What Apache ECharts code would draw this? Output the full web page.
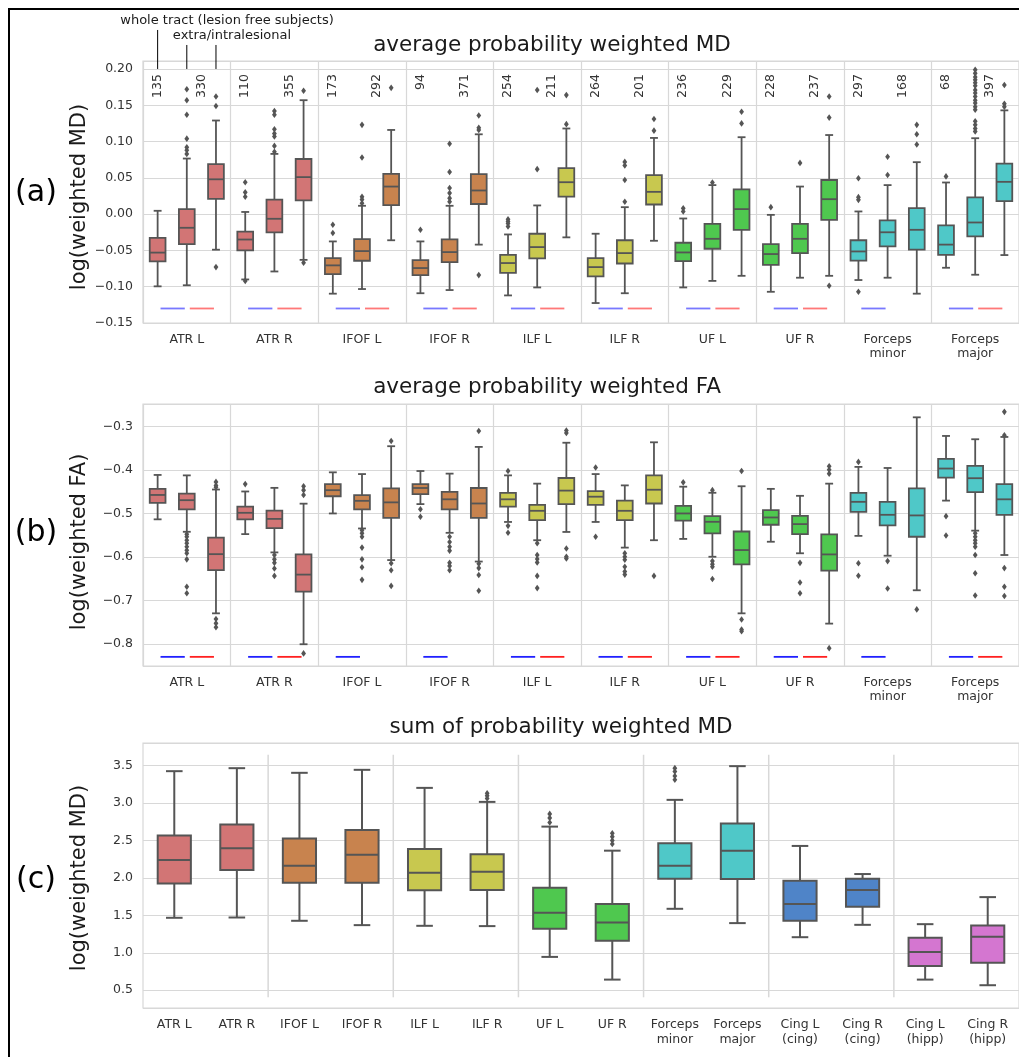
<!DOCTYPE html>
<html><head><meta charset="utf-8">
<script src="https://cdn.jsdelivr.net/npm/echarts@6/dist/echarts.min.js"></script>
<style>html,body{margin:0;padding:0;background:#fff}#c{width:1019px;height:1057px}</style>
</head><body><div id="c"></div>
<script>
// ---------------- DATA ----------------
const tracts10 = ['ATR L','ATR R','IFOF L','IFOF R','ILF L','ILF R','UF L','UF R','Forceps\nminor','Forceps\nmajor'];
const tracts14 = ['ATR L','ATR R','IFOF L','IFOF R','ILF L','ILF R','UF L','UF R','Forceps\nminor','Forceps\nmajor','Cing L\n(cing)','Cing R\n(cing)','Cing L\n(hipp)','Cing R\n(hipp)'];
const colorIdx10 = [0,0,1,1,2,2,3,3,4,4];
const colorIdx14 = [0,0,1,1,2,2,3,3,4,4,5,5,6,6];
const palette = ['#d27575','#c8834e','#c8c84f','#4fc84f','#4fc8c8','#4f84c8','#d476d0'];

// subject counts (lesion free / with lesions)
const nLesionFree = [135,110,173,94,254,264,236,228,297,68];
const nLesion     = [330,355,292,371,211,201,229,237,168,397];

// (a) average probability weighted MD : [min, q1, median, q3, max]
const mdWhole = [
  [-0.0995,-0.065,-0.053,-0.0326,0.0046],[-0.090,-0.050,-0.035,-0.024,0.003],
  [-0.1096,-0.0826,-0.0706,-0.0606,-0.0376],[-0.109,-0.084,-0.0743,-0.0633,-0.0376],
  [-0.112,-0.081,-0.0674,-0.056,-0.028],[-0.1225,-0.0858,-0.073,-0.0606,-0.027],
  [-0.101,-0.0647,-0.0528,-0.0394,-0.006],[-0.107,-0.070,-0.055,-0.0413,-0.001],
  [-0.0908,-0.064,-0.0514,-0.036,0.0037],[-0.0739,-0.056,-0.042,-0.0156,0.0436]];
const mdWholeOut = [[],[0.044,0.030,0.024,-0.092],[-0.0147,-0.026],[-0.0216],[-0.007,-0.010,-0.013,-0.017],[],[0.008,0.0037],[0.0096],[0.0495,0.0234,0.0197,-0.107],[0.052]];
const mdExtra = [
  [-0.098,-0.0413,-0.0188,0.0069,0.0766],[-0.079,-0.025,-0.0064,0.020,0.083],
  [-0.1032,-0.0642,-0.0509,-0.0344,0.0115],[-0.1046,-0.066,-0.0523,-0.0349,0.0115],
  [-0.101,-0.061,-0.0454,-0.027,0.012],[-0.109,-0.068,-0.0537,-0.036,0.0096],
  [-0.092,-0.0477,-0.034,-0.0133,0.040],[-0.0876,-0.0537,-0.034,-0.0133,0.038],
  [-0.0876,-0.0445,-0.025,-0.0087,0.040],[-0.0835,-0.0307,-0.0115,0.023,0.1046]];
const mdExtraOut = [[0.172,0.157,0.137,0.104,0.092,0.088,0.083],[0.142,0.137,0.117,0.111,0.107,0.094,0.086],[0.123,0.078,0.024,0.020,0.015],[0.097,0.058,0.036,0.029,0.022,0.017],[0.062,0.171],[0.017,0.047,0.067,0.072],[0.0436],[0.0706],[0.079,0.054],[0.199,0.194,0.189,0.185,0.181,0.177,0.171,0.167,0.162,0.157,0.153,0.148,0.144,0.128,0.123,0.118,0.114]];
const mdIntra = [
  [-0.049,0.021,0.048,0.069,0.129],[-0.063,0.019,0.051,0.076,0.157],
  [-0.036,0.0124,0.038,0.0555,0.116],[-0.042,0.014,0.0326,0.055,0.110],
  [-0.032,0.024,0.044,0.0633,0.118],[-0.0367,0.0133,0.0307,0.0537,0.105],
  [-0.085,-0.0216,0.0069,0.034,0.106],[-0.085,-0.0078,0.0206,0.047,0.109],
  [-0.1096,-0.049,-0.0216,0.0083,0.0716],[-0.0564,0.0179,0.0445,0.0697,0.143]];
const mdIntraOut = [[0.162,0.149,-0.073],[0.170,-0.067],[0.174],[0.136,0.119,0.116,-0.084],[0.124,0.164],[0.115,0.131],[0.141,0.125],[0.162,0.133,-0.0986],[0.123,0.110,0.096],[0.178,0.152,0.148]];
const sigBlueA = [1,1,1,1,1,1,1,1,1,1];
const sigRedA  = [1,1,1,1,1,1,1,1,0,1];

// (b) average probability weighted FA
const faWhole = [
  [-0.513,-0.475,-0.457,-0.443,-0.411],[-0.547,-0.513,-0.498,-0.484,-0.449],
  [-0.4995,-0.460,-0.446,-0.432,-0.405],[-0.478,-0.455,-0.441,-0.432,-0.402],
  [-0.519,-0.484,-0.467,-0.452,-0.412],[-0.519,-0.480,-0.461,-0.448,-0.409],
  [-0.558,-0.516,-0.4995,-0.482,-0.438],[-0.5645,-0.5255,-0.5087,-0.492,-0.443],
  [-0.551,-0.4957,-0.4728,-0.452,-0.3925],[-0.47,-0.417,-0.3963,-0.374,-0.3214]];
const faWholeOut = [[],[-0.432],[],[-0.49,-0.507],[-0.402,-0.528,-0.544],[-0.394,-0.553],[-0.428],[],[-0.381,-0.614,-0.6425],[-0.5057,-0.55]];
const faExtra = [
  [-0.5416,-0.490,-0.469,-0.454,-0.412],[-0.589,-0.533,-0.512,-0.493,-0.4407],
  [-0.534,-0.490,-0.4705,-0.4575,-0.409],[-0.544,-0.490,-0.467,-0.45,-0.408],
  [-0.561,-0.515,-0.4934,-0.480,-0.431],[-0.578,-0.515,-0.4934,-0.470,-0.435],
  [-0.599,-0.5454,-0.5187,-0.5057,-0.452],[-0.591,-0.547,-0.524,-0.505,-0.459],
  [-0.5966,-0.527,-0.5026,-0.4728,-0.395],[-0.539,-0.4506,-0.4185,-0.390,-0.329]];
const faExtraOut = [[-0.547,-0.553,-0.561,-0.568,-0.576,-0.584,-0.591,-0.605,-0.668,-0.683],[-0.595,-0.605,-0.613,-0.626,-0.643],[-0.538,-0.545,-0.553,-0.578,-0.605,-0.623,-0.652],[-0.553,-0.565,-0.576,-0.585,-0.613,-0.620,-0.63],[-0.568,-0.595,-0.604,-0.612,-0.643,-0.671],[-0.591,-0.599,-0.606,-0.622,-0.633,-0.64],[-0.446,-0.609,-0.616,-0.622,-0.65],[-0.613,-0.658,-0.683],[-0.609,-0.672],[-0.545,-0.553,-0.561,-0.568,-0.576,-0.595,-0.637,-0.688]];
const faIntra = [
  [-0.729,-0.6295,-0.593,-0.555,-0.4445],[-0.80,-0.679,-0.640,-0.5936,-0.477],
  [-0.6066,-0.5095,-0.474,-0.442,-0.345],[-0.61,-0.5095,-0.4766,-0.441,-0.3466],
  [-0.542,-0.478,-0.447,-0.418,-0.337],[-0.561,-0.4766,-0.445,-0.412,-0.336],
  [-0.729,-0.6165,-0.5836,-0.541,-0.437],[-0.7526,-0.631,-0.5936,-0.5477,-0.431],
  [-0.676,-0.553,-0.504,-0.442,-0.2786],[-0.595,-0.5026,-0.467,-0.432,-0.3237]];
const faIntraOut = [[-0.427,-0.435,-0.439,-0.742,-0.752,-0.761],[-0.437,-0.446,-0.457,-0.821],[-0.333,-0.614,-0.63,-0.666],[-0.31,-0.615,-0.625,-0.641,-0.677],[-0.309,-0.3145,-0.58,-0.599,-0.603],[-0.643],[-0.402,-0.743,-0.766,-0.77],[-0.391,-0.399,-0.408,-0.809],[-0.72],[-0.266,-0.32,-0.625,-0.668,-0.689]];
const sigBlueB = [1,1,1,1,1,1,1,1,1,1];
const sigRedB  = [1,1,0,0,1,1,1,1,0,1];

// (c) sum of probability weighted MD
const mdSum = [
  [1.467,1.926,2.238,2.564,3.424],[1.471,2.105,2.394,2.711,3.464],
  [1.427,1.935,2.163,2.524,3.402],[1.369,1.935,2.31,2.64,3.442],
  [1.36,1.833,2.069,2.385,3.201],[1.356,1.837,2.082,2.314,3.014],
  [0.945,1.32,1.534,1.868,2.684],[0.642,1.16,1.405,1.65,2.363],
  [1.587,1.989,2.163,2.461,3.041],[1.396,1.984,2.363,2.724,3.491],
  [1.208,1.427,1.65,1.962,2.426],[1.373,1.614,1.837,1.989,2.051],
  [0.642,0.825,1.012,1.2,1.382],[0.567,0.866,1.213,1.364,1.743]];
const mdSumOut = [[],[],[],[],[],[3.13,3.095,3.06],[2.854,2.80,2.738],[2.595,2.55,2.50,2.452],[3.464,3.42,3.36,3.31],[],[],[],[],[]];
const pairBoundaryC = [1,3,5,7,9,11];

// ---------------- CHART ----------------
const FONT = '"DejaVu Sans", sans-serif';
const EDGE = '#555555';
const GRIDC = '#d8d8d8';
const TXT = '#333333';
const OFF = [-0.333, 0, 0.333];

function minusFmt(step, dec) {
  return function (v) {
    const k = v / step;
    if (Math.abs(k - Math.round(k)) > 1e-6) return '';
    return (v < -1e-9 ? '\u2212' : '') + Math.abs(v).toFixed(dec);
  };
}

function boxSeries(g, data, off, wFrac, cIdx, lw) {
  return {
    type: 'custom', xAxisIndex: g, yAxisIndex: g, z: 3,
    data: data.map((d, i) => [i].concat(d)),
    encode: { x: 0, y: [1, 2, 3, 4, 5] },
    renderItem: function (params, api) {
      const i = api.value(0);
      const band = api.size([1, 0])[0];
      const yv = k => api.coord([i, api.value(k)])[1];
      const xc = api.coord([i, api.value(3)])[0] + off * band;
      const w = wFrac * band;
      const yMin = yv(1), yQ1 = yv(2), yMed = yv(3), yQ3 = yv(4), yMax = yv(5);
      const ls = { stroke: EDGE, lineWidth: lw };
      return { type: 'group', children: [
        { type: 'line', shape: { x1: xc, y1: yMax, x2: xc, y2: yQ3 }, style: ls },
        { type: 'line', shape: { x1: xc, y1: yQ1, x2: xc, y2: yMin }, style: ls },
        { type: 'line', shape: { x1: xc - w / 4, y1: yMax, x2: xc + w / 4, y2: yMax }, style: ls },
        { type: 'line', shape: { x1: xc - w / 4, y1: yMin, x2: xc + w / 4, y2: yMin }, style: ls },
        { type: 'rect', shape: { x: xc - w / 2, y: yQ3, width: w, height: yQ1 - yQ3 }, style: { fill: palette[cIdx[i]], stroke: EDGE, lineWidth: lw } },
        { type: 'line', shape: { x1: xc - w / 2, y1: yMed, x2: xc + w / 2, y2: yMed }, style: ls }
      ]};
    }
  };
}

function outlierSeries(g, outs, off) {
  const data = [];
  outs.forEach((arr, i) => arr.forEach(v => data.push([i, v])));
  return {
    type: 'custom', xAxisIndex: g, yAxisIndex: g, z: 4, data: data,
    encode: { x: 0, y: 1 },
    renderItem: function (params, api) {
      const band = api.size([1, 0])[0];
      const c = api.coord([api.value(0), api.value(1)]);
      const x = c[0] + off * band, y = c[1];
      return { type: 'polygon', shape: { points: [[x, y - 3.3], [x + 2.4, y], [x, y + 3.3], [x - 2.4, y]] }, style: { fill: EDGE } };
    }
  };
}

function sigSeries(g, blue, red, yVal, bc, rc) {
  return {
    type: 'custom', xAxisIndex: g, yAxisIndex: g, z: 2,
    data: blue.map((b, i) => [i, b, red[i]]),
    encode: { x: 0 },
    renderItem: function (params, api) {
      const band = api.size([1, 0])[0];
      const c = api.coord([api.value(0), yVal]);
      const ch = [];
      if (api.value(1)) ch.push({ type: 'line', shape: { x1: c[0] - 0.30 * band, y1: c[1], x2: c[0] - 0.023 * band, y2: c[1] }, style: { stroke: bc, lineWidth: 1.8 } });
      if (api.value(2)) ch.push({ type: 'line', shape: { x1: c[0] + 0.034 * band, y1: c[1], x2: c[0] + 0.31 * band, y2: c[1] }, style: { stroke: rc, lineWidth: 1.8 } });
      return { type: 'group', children: ch };
    }
  };
}

function countSeries(counts, off, yVal) {
  return {
    type: 'custom', xAxisIndex: 0, yAxisIndex: 0, z: 5,
    data: counts.map((n, i) => [i, n]),
    encode: { x: 0 },
    renderItem: function (params, api) {
      const band = api.size([1, 0])[0];
      const c = api.coord([api.value(0), yVal]);
      return { type: 'text', x: c[0] + off * band, y: c[1], rotation: Math.PI / 2,
        style: { text: String(api.value(1)), align: 'right', verticalAlign: 'middle', font: '12.5px ' + FONT, fill: TXT } };
    }
  };
}

const leaderSeries = {
  type: 'custom', xAxisIndex: 0, yAxisIndex: 0, z: 5, clip: false,
  data: [[0]], encode: { x: 0 },
  renderItem: function (params, api) {
    const band = api.size([1, 0])[0];
    const c = api.coord([api.value(0), 0.20]);
    const ls = { stroke: '#000', lineWidth: 1 };
    return { type: 'group', children: [
      { type: 'line', shape: { x1: c[0] + OFF[0] * band, y1: c[1], x2: c[0] + OFF[0] * band, y2: c[1] - 39 }, style: ls },
      { type: 'line', shape: { x1: c[0], y1: c[1], x2: c[0], y2: c[1] - 24 }, style: ls },
      { type: 'line', shape: { x1: c[0] + OFF[2] * band, y1: c[1], x2: c[0] + OFF[2] * band, y2: c[1] - 24 }, style: ls }
    ]};
  }
};

const pairSepSeries = {
  type: 'custom', xAxisIndex: 2, yAxisIndex: 2, z: 1,
  data: pairBoundaryC.map(i => [i]), encode: { x: 0 },
  renderItem: function (params, api) {
    const band = api.size([1, 0])[0];
    const a = api.coord([api.value(0), 3.643]);
    const b = api.coord([api.value(0), 0.406]);
    const x = a[0] + band / 2;
    return { type: 'line', shape: { x1: x, y1: a[1], x2: x, y2: b[1] }, style: { stroke: GRIDC, lineWidth: 1.5 } };
  }
};

const catLabel = { color: TXT, fontSize: 12.5, fontFamily: FONT, margin: 10, lineHeight: 14 };
function xCat(g, cats, split) {
  return { type: 'category', gridIndex: g, data: cats, boundaryGap: true,
    axisLine: { show: false }, axisTick: { show: false },
    axisLabel: Object.assign({ interval: 0 }, catLabel),
    splitLine: { show: split, lineStyle: { color: GRIDC, width: 1.2 } } };
}
function yVal(g, min, max, extra) {
  return Object.assign({ type: 'value', gridIndex: g, min: min, max: max, scale: true,
    axisLine: { show: false }, axisTick: { show: false },
    splitLine: { show: true, lineStyle: { color: GRIDC, width: 1.2 } } }, extra);
}

const option = {
  animation: false,
  backgroundColor: '#ffffff',
  grid: [
    { left: 143, top: 61, width: 880, height: 262, show: true, borderColor: GRIDC, borderWidth: 1.2, backgroundColor: '#fff' },
    { left: 143, top: 404, width: 880, height: 262, show: true, borderColor: GRIDC, borderWidth: 1.2, backgroundColor: '#fff' },
    { left: 143, top: 743, width: 882, height: 265, show: true, borderColor: GRIDC, borderWidth: 1.2, backgroundColor: '#fff' }
  ],
  xAxis: [ xCat(0, tracts10, true), xCat(1, tracts10, true), Object.assign(xCat(2, tracts14, false), { axisLabel: Object.assign({ interval: 0 }, catLabel, { margin: 9, lineHeight: 15 }) }) ],
  yAxis: [
    yVal(0, -0.15, 0.211, { interval: 0.05, axisLabel: { formatter: minusFmt(0.05, 2), color: TXT, fontSize: 12.5, fontFamily: FONT, margin: 10 } }),
    yVal(1, -0.85, -0.248, { splitNumber: 6, axisLabel: { formatter: minusFmt(0.1, 1), color: TXT, fontSize: 12.5, fontFamily: FONT, margin: 10 } }),
    yVal(2, 0.263, 3.8, { splitNumber: 7, axisLabel: { formatter: minusFmt(0.5, 1), color: TXT, fontSize: 12.5, fontFamily: FONT, margin: 10 } })
  ],
  graphic: [
    { type: 'rect', shape: { x: 9, y: 9, width: 1200, height: 1200 }, style: { fill: 'none', stroke: '#000', lineWidth: 2 }, z: 100 },
    { type: 'text', x: 552, y: 45, style: { text: 'average probability weighted MD', font: '21.5px ' + FONT, fill: '#1a1a1a', align: 'center', verticalAlign: 'middle' } },
    { type: 'text', x: 547, y: 387, style: { text: 'average probability weighted FA', font: '21.5px ' + FONT, fill: '#1a1a1a', align: 'center', verticalAlign: 'middle' } },
    { type: 'text', x: 561, y: 727, style: { text: 'sum of probability weighted MD', font: '21.5px ' + FONT, fill: '#1a1a1a', align: 'center', verticalAlign: 'middle' } },
    { type: 'text', x: 80, y: 197, rotation: Math.PI / 2, style: { text: 'log(weighted MD)', font: '21px ' + FONT, fill: '#1a1a1a', align: 'center', verticalAlign: 'middle' } },
    { type: 'text', x: 80, y: 542, rotation: Math.PI / 2, style: { text: 'log(weighted FA)', font: '21px ' + FONT, fill: '#1a1a1a', align: 'center', verticalAlign: 'middle' } },
    { type: 'text', x: 80, y: 878, rotation: Math.PI / 2, style: { text: 'log(weighted MD)', font: '21px ' + FONT, fill: '#1a1a1a', align: 'center', verticalAlign: 'middle' } },
    { type: 'text', x: 36, y: 193, style: { text: '(a)', font: '30px ' + FONT, fill: '#000', align: 'center', verticalAlign: 'middle' } },
    { type: 'text', x: 36, y: 533, style: { text: '(b)', font: '30px ' + FONT, fill: '#000', align: 'center', verticalAlign: 'middle' } },
    { type: 'text', x: 36, y: 880, style: { text: '(c)', font: '30px ' + FONT, fill: '#000', align: 'center', verticalAlign: 'middle' } },
    { type: 'text', x: 227, y: 21, style: { text: 'whole tract (lesion free subjects)', font: '13px ' + FONT, fill: '#1a1a1a', align: 'center', verticalAlign: 'middle' } },
    { type: 'text', x: 232, y: 36, style: { text: 'extra/intralesional', font: '13px ' + FONT, fill: '#1a1a1a', align: 'center', verticalAlign: 'middle' } }
  ],
  series: [
    sigSeries(0, sigBlueA, sigRedA, -0.13, '#7878ff', '#ff7878'),
    boxSeries(0, mdWhole, OFF[0], 0.18, colorIdx10, 1.8),
    boxSeries(0, mdExtra, OFF[1], 0.18, colorIdx10, 1.8),
    boxSeries(0, mdIntra, OFF[2], 0.18, colorIdx10, 1.8),
    outlierSeries(0, mdWholeOut, OFF[0]),
    outlierSeries(0, mdExtraOut, OFF[1]),
    outlierSeries(0, mdIntraOut, OFF[2]),
    countSeries(nLesionFree, OFF[0], 0.193),
    countSeries(nLesion, 0.17, 0.193),
    leaderSeries,
    sigSeries(1, sigBlueB, sigRedB, -0.829, '#2020ff', '#ff2020'),
    boxSeries(1, faWhole, OFF[0], 0.18, colorIdx10, 1.8),
    boxSeries(1, faExtra, OFF[1], 0.18, colorIdx10, 1.8),
    boxSeries(1, faIntra, OFF[2], 0.18, colorIdx10, 1.8),
    outlierSeries(1, faWholeOut, OFF[0]),
    outlierSeries(1, faExtraOut, OFF[1]),
    outlierSeries(1, faIntraOut, OFF[2]),
    pairSepSeries,
    boxSeries(2, mdSum, 0, 0.53, colorIdx14, 2),
    outlierSeries(2, mdSumOut, 0)
  ]
};

const chart = echarts.init(document.getElementById('c'), null, { renderer: 'canvas' });
chart.setOption(option);
</script>
</body></html>
